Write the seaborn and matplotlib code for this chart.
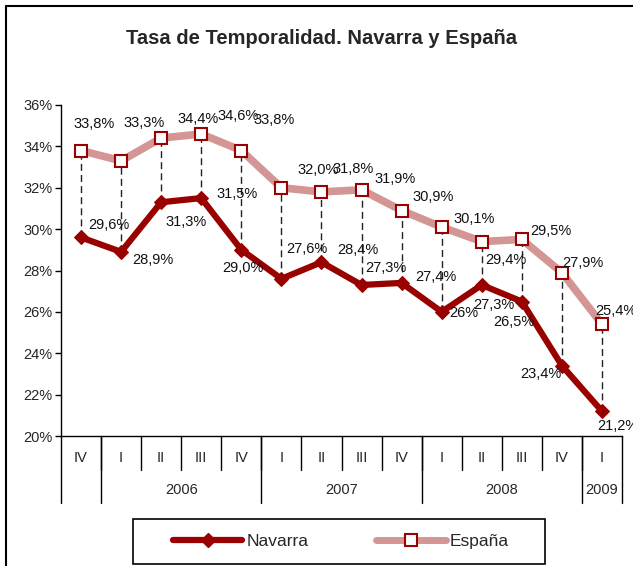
import numpy as np
import pandas as pd
import matplotlib.pyplot as plt
import seaborn as sns
from matplotlib.lines import Line2D
from matplotlib.patches import Rectangle
from matplotlib.ticker import FuncFormatter

# datos (tasa de temporalidad, %)
trimestres = ["IV", "I", "II", "III", "IV", "I", "II", "III", "IV", "I", "II", "III", "IV", "I"]
anios = ["2006", "2007", "2008", "2009"]
anio_limites = [0.5, 4.5, 8.5, 12.5, 13.5]
navarra = [29.6, 28.9, 31.3, 31.5, 29.0, 27.6, 28.4, 27.3, 27.4, 26.0, 27.3, 26.5, 23.4, 21.2]
espana = [33.8, 33.3, 34.4, 34.6, 33.8, 32.0, 31.8, 31.9, 30.9, 30.1, 29.4, 29.5, 27.9, 25.4]
etiq_navarra = ["29,6%", "28,9%", "31,3%", "31,5%", "29,0%", "27,6%", "28,4%", "27,3%",
                "27,4%", "26%", "27,3%", "26,5%", "23,4%", "21,2%"]
etiq_espana = ["33,8%", "33,3%", "34,4%", "34,6%", "33,8%", "32,0%", "31,8%", "31,9%",
               "30,9%", "30,1%", "29,4%", "29,5%", "27,9%", "25,4%"]

# desplazamiento de etiquetas (px)
off_nav = [(28, -12), (32, 8), (25, 20), (36, -4), (2, 18), (25, -30), (36, -12), (24, -17),
           (34, -6), (22, 1), (12, 20), (-8, 20), (-21, 8), (16, 15)]
off_esp = [(13, -27), (23, -38), (37, -19), (37, -18), (33, -31), (37, -18), (32, -23), (34, -11),
           (32, -14), (32, -8), (24, 18), (29, -8), (21, -10), (14, -13)]

x = np.arange(len(trimestres))
df = pd.DataFrame({"x": x, "Navarra": navarra, "España": espana})

sns.set_style("white")
plt.rcParams["font.family"] = ["Liberation Sans", "DejaVu Sans"]

ROJO = "#990000"
ROSA = "#d49595"

fig = plt.figure(figsize=(6.33, 5.66), dpi=100)
ax = fig.add_axes([61 / 633, 1 - 436 / 566, (622 - 61) / 633, (436 - 105) / 566])

ax.vlines(x, df["Navarra"], df["España"], colors="#222222", linestyles=(0, (5, 3)), lw=1, zorder=1)
sns.lineplot(data=df, x="x", y="España", ax=ax, color=ROSA, lw=5.5, marker="s", markersize=8,
             markerfacecolor="white", markeredgecolor=ROJO, markeredgewidth=1.5, zorder=2)
sns.lineplot(data=df, x="x", y="Navarra", ax=ax, color=ROJO, lw=4.5, marker="D", markersize=7.5,
             markeredgecolor=ROJO, zorder=3)

for i in range(len(x)):
    ax.annotate(etiq_espana[i], (x[i], espana[i]), xytext=(off_esp[i][0] * 0.72, -off_esp[i][1] * 0.72),
                textcoords="offset points", ha="center", va="center", fontsize=10.5, color="#111111")
    ax.annotate(etiq_navarra[i], (x[i], navarra[i]), xytext=(off_nav[i][0] * 0.72, -off_nav[i][1] * 0.72),
                textcoords="offset points", ha="center", va="center", fontsize=10.5, color="#111111")

ax.set_xlim(-0.5, 13.5)
ax.set_ylim(20, 36)
ax.set_yticks(np.arange(20, 37, 2))
ax.yaxis.set_major_formatter(FuncFormatter(lambda v, p: f"{v:.0f}%"))
ax.tick_params(axis="y", left=True, length=4, width=1, color="black", labelsize=10.5, pad=2)
ax.set_xticks([])
ax.set_xlabel("")
ax.set_ylabel("")
for s in ["top", "right"]:
    ax.spines[s].set_visible(False)
for s in ["left", "bottom"]:
    ax.spines[s].set_color("black")
    ax.spines[s].set_linewidth(1)

# eje de categorías en dos niveles
tr = ax.get_xaxis_transform()
for b in np.arange(0.5, 13, 1):
    ax.plot([b, b], [0, -0.103], color="black", lw=1, transform=tr, clip_on=False)
for b in [-0.5] + anio_limites:
    ax.plot([b, b], [0, -0.202], color="black", lw=1, transform=tr, clip_on=False)
for i, t in enumerate(trimestres):
    ax.text(x[i], -0.066, t, transform=tr, ha="center", va="center", fontsize=10.5)
for j, a in enumerate(anios):
    ax.text((anio_limites[j] + anio_limites[j + 1]) / 2, -0.163, a, transform=tr,
            ha="center", va="center", fontsize=10.5)

fig.text(322 / 633, 1 - 38 / 566, "Tasa de Temporalidad. Navarra y España",
         ha="center", va="center", fontsize=14.5, fontweight="bold")

# leyenda con marco propio
handles = [Line2D([], [], color=ROJO, lw=4.5, marker="D", markersize=7.5),
           Line2D([], [], color=ROSA, lw=5, marker="s", markersize=8,
                  markerfacecolor="white", markeredgecolor=ROJO, markeredgewidth=1.5)]
fig.legend(handles, ["Navarra", "España"], loc="center", ncol=2,
           bbox_to_anchor=(341 / 633, 1 - 541.5 / 566), fontsize=12.5, frameon=False,
           handlelength=4.0, handletextpad=0.25, columnspacing=3.9, borderaxespad=0)
fig.add_artist(Rectangle((133 / 633, 1 - 564 / 566), (545 - 133) / 633, 45 / 566,
                         transform=fig.transFigure, fill=False, edgecolor="black", lw=1.2))

# marco exterior
fig.add_artist(Line2D([6 / 633, 6 / 633], [0, 1 - 6 / 566], color="black", lw=1.5))
fig.add_artist(Line2D([6 / 633, 1], [1 - 6 / 566, 1 - 6 / 566], color="black", lw=1.5))

fig.savefig("out.png", dpi=100)
